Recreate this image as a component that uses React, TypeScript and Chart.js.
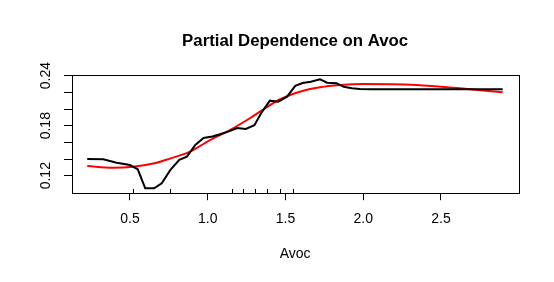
import React, { useEffect, useRef } from "react";
import { Chart, registerables } from "chart.js";

Chart.register(...registerables);

// Partial dependence (black)
const pdX = [0.225, 0.328, 0.414, 0.5, 0.55, 0.598, 0.655, 0.704, 0.76, 0.817, 0.866, 0.92, 0.973, 1.03, 1.079, 1.14, 1.19, 1.245, 1.3, 1.347, 1.4, 1.454, 1.51, 1.563, 1.61, 1.663, 1.722, 1.768, 1.829, 1.875, 1.926, 1.979, 2.05, 2.897];
const pdY = [0.14, 0.1397, 0.1356, 0.1328, 0.1277, 0.1049, 0.1049, 0.1109, 0.127, 0.139, 0.1428, 0.1568, 0.1652, 0.167, 0.1697, 0.1735, 0.1772, 0.176, 0.1805, 0.196, 0.21, 0.2088, 0.2148, 0.2278, 0.2312, 0.2328, 0.2357, 0.2316, 0.2309, 0.2266, 0.2249, 0.224, 0.2237, 0.2237];

// Smooth fit (red)
const fitX = [0.225, 0.39, 0.52, 0.672, 0.757, 0.886, 1.015, 1.143, 1.271, 1.336, 1.465, 1.593, 1.722, 1.851, 2.0, 2.343, 2.622, 2.897];
const fitY = [0.1316, 0.1296, 0.1308, 0.1356, 0.1405, 0.1488, 0.1628, 0.1748, 0.1889, 0.1968, 0.2117, 0.2208, 0.2261, 0.2288, 0.23, 0.2288, 0.2249, 0.2201];

// Rug (deciles)
const rugX = [0.517, 0.757, 1.154, 1.225, 1.304, 1.383, 1.465, 1.55];

const xTickValues = [0.5, 1.0, 1.5, 2.0, 2.5];
const xTickLabels = ["0.5", "1.0", "1.5", "2.0", "2.5"];
const yTickValues = [0.12, 0.14, 0.16, 0.18, 0.2, 0.22, 0.24];
const yTickLabels = ["0.12", "", "", "0.18", "", "", "0.24"];

const chartTitle = "Partial Dependence on Avoc";
const xTitle = "Avoc";

const FONT = "'Liberation Sans', Arial, Helvetica, sans-serif";

const boxAndRug = {
  id: "boxAndRug",
  afterDatasetsDraw(chart: any) {
    const { ctx, chartArea } = chart;
    const xs = chart.scales.x;
    ctx.save();
    ctx.strokeStyle = "#000";
    ctx.lineWidth = 1;
    ctx.strokeRect(
      Math.round(chartArea.left) + 0.5,
      Math.round(chartArea.top) + 0.5,
      Math.round(chartArea.right) - Math.round(chartArea.left),
      Math.round(chartArea.bottom) - Math.round(chartArea.top)
    );
    ctx.beginPath();
    const b = Math.round(chartArea.bottom);
    for (const v of rugX) {
      const px = Math.round(xs.getPixelForValue(v)) + 0.5;
      ctx.moveTo(px, b);
      ctx.lineTo(px, b - 4);
    }
    ctx.stroke();
    ctx.restore();
  },
};

export default function App() {
  const ref = useRef<HTMLCanvasElement | null>(null);

  useEffect(() => {
    if (!ref.current) return;
    const chart = new Chart(ref.current, {
      type: "line",
      data: {
        datasets: [
          {
            label: "pd",
            data: pdX.map((x, i) => ({ x, y: pdY[i] })),
            borderColor: "#000000",
            borderWidth: 2,
            pointRadius: 0,
            tension: 0,
            fill: false,
          },
          {
            label: "fit",
            data: fitX.map((x, i) => ({ x, y: fitY[i] })),
            borderColor: "#FF0000",
            borderWidth: 2,
            pointRadius: 0,
            cubicInterpolationMode: "monotone",
            fill: false,
          },
        ],
      },
      options: {
        animation: false,
        responsive: false,
        maintainAspectRatio: false,
        layout: { padding: { left: 0, right: 35.3, top: 0, bottom: 0 } },
        plugins: {
          legend: { display: false },
          tooltip: { enabled: false },
          title: {
            display: true,
            text: chartTitle,
            fullSize: false,
            color: "#000",
            font: { family: FONT, size: 16.8, weight: "bold" },
            padding: { top: 31.4, bottom: 23.7 },
          },
        },
        scales: {
          x: {
            type: "linear",
            min: 0.1238,
            max: 3.0,
            afterBuildTicks: (s: any) => {
              s.ticks = xTickValues.map((v) => ({ value: v }));
            },
            afterFit: (s: any) => {
              s.height = 282 - 192.7;
            },
            grid: {
              display: true,
              drawOnChartArea: false,
              drawTicks: true,
              tickLength: 7.5,
              color: "#000",
            },
            border: { display: false },
            ticks: {
              autoSkip: false,
              maxRotation: 0,
              minRotation: 0,
              padding: 10.8,
              color: "#000",
              font: { family: FONT, size: 14 },
              callback: (_v: any, i: number) => xTickLabels[i],
            },
            title: {
              display: true,
              text: xTitle,
              color: "#000",
              font: { family: FONT, size: 14 },
              padding: { top: 0, bottom: 19.5 },
            },
          },
          y: {
            type: "linear",
            min: 0.0996,
            max: 0.2405,
            afterBuildTicks: (s: any) => {
              s.ticks = yTickValues.map((v) => ({ value: v }));
            },
            afterFit: (s: any) => {
              s.width = 71.5;
            },
            grid: {
              display: true,
              drawOnChartArea: false,
              drawTicks: true,
              tickLength: 7.5,
              color: "#000",
            },
            border: { display: false },
            ticks: {
              autoSkip: false,
              minRotation: 90,
              maxRotation: 90,
              crossAlign: "center",
              padding: 3.9,
              color: "#000",
              font: { family: FONT, size: 14 },
              callback: (_v: any, i: number) => yTickLabels[i],
            },
          },
        },
      },
      plugins: [boxAndRug],
    } as any);
    return () => chart.destroy();
  }, []);

  return (
    <div style={{ position: "fixed", left: 0, top: 0, width: 554, height: 282, background: "#fff" }}>
      <canvas ref={ref} width={554} height={282} style={{ width: 554, height: 282, display: "block" }} />
    </div>
  );
}
